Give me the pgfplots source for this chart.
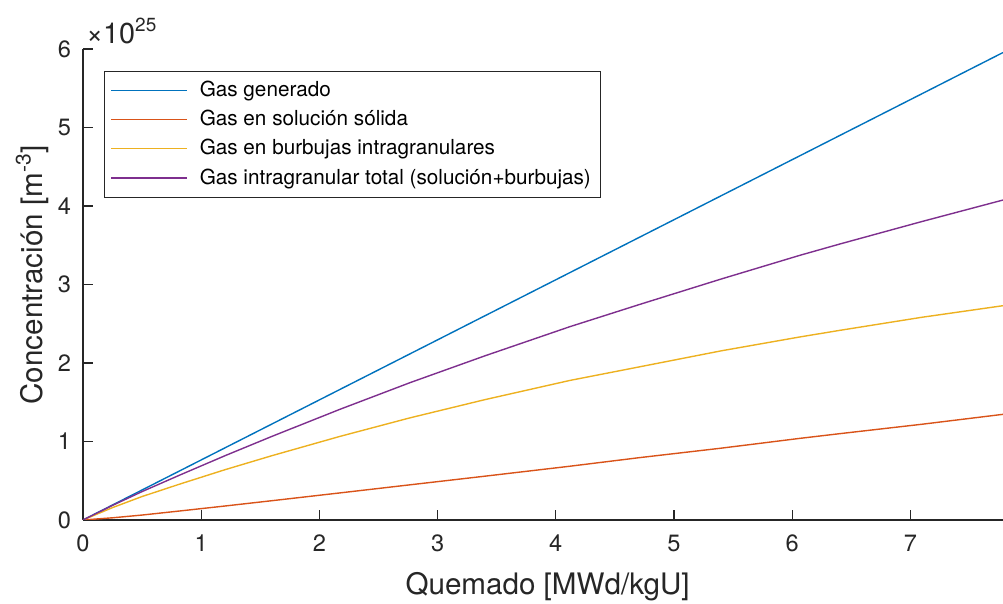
\documentclass[border=0pt]{standalone}
\usepackage{fontspec}
\setmainfont{TeX Gyre Heros}
\usepackage{pgfplots}
\pgfplotsset{compat=1.18}
\usepackage{pgfplotstable}
\definecolor{mblue}{rgb}{0,0.447,0.741}
\definecolor{mred}{rgb}{0.85,0.325,0.098}
\definecolor{myellow}{rgb}{0.929,0.694,0.125}
\definecolor{mpurple}{rgb}{0.494,0.184,0.556}
\definecolor{axgray}{rgb}{0.15,0.15,0.15}

\pgfplotstableread{
x y
0 0
1 0.765
2 1.530
3 2.295
4 3.060
5 3.825
6 4.590
7 5.355
7.784 5.955
}\generado

\pgfplotstableread{
x y
0 0
0.25 0.028
0.5 0.063
0.82 0.115
1.2 0.178
1.6 0.246
2.174 0.345
2.766 0.448
3.4 0.558
4.12 0.685
4.712 0.795
5.4 0.915
6.066 1.040
6.404 1.100
7.1 1.220
7.784 1.346
}\solucion

\pgfplotstableread{
x y
0 0
0.25 0.158
0.5 0.299
0.82 0.458
1.2 0.640
1.6 0.820
2.174 1.065
2.766 1.301
3.4 1.533
4.12 1.778
4.712 1.952
5.4 2.155
6.066 2.332
6.404 2.416
7.1 2.583
7.784 2.730
}\burbujas

\pgfplotstableread{
x y
0 0
0.25 0.186
0.5 0.362
0.82 0.573
1.2 0.818
1.6 1.066
2.174 1.410
2.766 1.749
3.4 2.091
4.12 2.463
4.712 2.747
5.4 3.070
6.066 3.372
6.404 3.516
7.1 3.803
7.784 4.076
}\total

\begin{document}
\begin{tikzpicture}
\begin{axis}[
  scale only axis,
  width=460pt, height=235.5pt,
  xmin=0, xmax=7.784, ymin=0, ymax=6,
  xtick={0,1,...,7}, ytick={0,1,...,6},
  axis lines*=left,
  axis line style={-, draw=axgray, line width=0.6pt},
  tick align=inside,
  tick style={draw=axgray, line width=0.6pt},
  major tick length=5pt,
  tick label style={font=\fontsize{11.8}{13}\selectfont, text=axgray},
  /pgf/number format/assume math mode=true,
  xticklabel style={yshift=-4pt},
  yticklabel style={xshift=-2.5pt},
  label style={font=\fontsize{14.8}{17}\selectfont, text=axgray},
  xlabel={Quemado [MWd/kgU]},
  xlabel style={at={(axis description cs:0.505,0)}, anchor=base, yshift=-37.5pt},
  ylabel={Concentración [m\raisebox{0.75ex}{\fontsize{10.5}{11}\selectfont -3}]},
  ylabel style={at={(axis description cs:-0.0554,0.52)}, anchor=center, rotate=0},
  legend cell align=left,
  legend image code/.code={\draw[mark repeat=2,mark phase=2,#1] plot coordinates {(0pt,0pt) (19pt,0pt) (38pt,0pt)};},
  legend style={
    at={(rel axis cs:0.0228,0.9533)}, anchor=north west,
    draw=axgray,
    inner xsep=3pt, inner ysep=3pt,
    font=\fontsize{10.35}{12}\selectfont,
    row sep=1.3pt,
    /tikz/every odd column/.append style={column sep=4pt},
  },
  every axis plot/.append style={line width=0.7pt},
]
\addplot[mblue] table[x=x,y=y] {\generado};
\addlegendentry{Gas generado}
\addplot[mred] table[x=x,y=y] {\solucion};
\addlegendentry{Gas en solución sólida}
\addplot[myellow] table[x=x,y=y] {\burbujas};
\addlegendentry{Gas en burbujas intragranulares}
\addplot[mpurple] table[x=x,y=y] {\total};
\addlegendentry{Gas intragranular total (solución+burbujas)\hspace{3.5pt}}
\end{axis}
\node[anchor=base west, inner sep=0pt, text=axgray]
  at (1.5pt,238pt) {\fontsize{14.4}{16}\selectfont ×10\raisebox{6pt}{\fontsize{9.5}{10}\selectfont 25}};
\pgfresetboundingbox
\path[use as bounding box] (-41.5pt,-42pt) rectangle (460pt,260pt);
\end{tikzpicture}
\end{document}
